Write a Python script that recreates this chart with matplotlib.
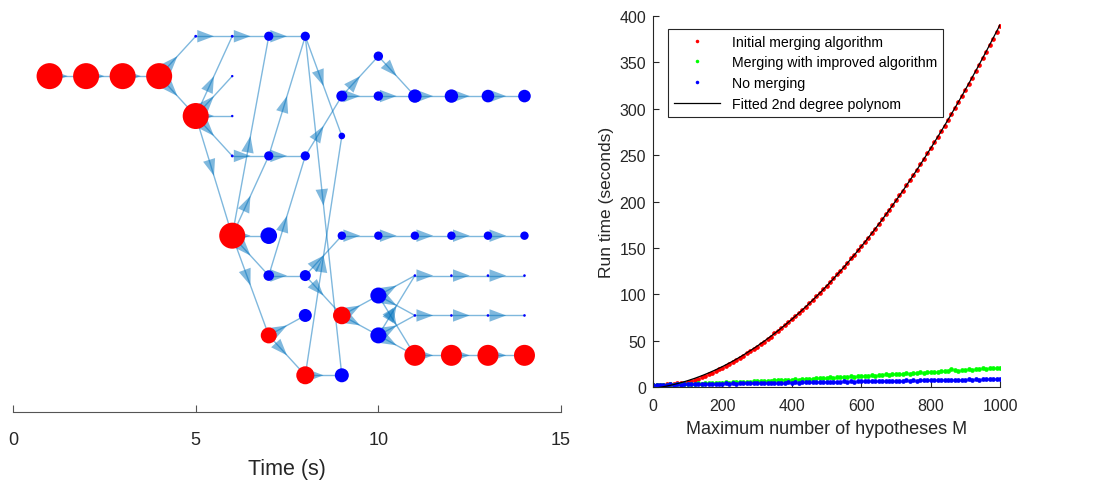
import numpy as np
import matplotlib
matplotlib.use("Agg")
import matplotlib.pyplot as plt
from matplotlib.patches import FancyArrowPatch

plt.rcParams['font.family'] = ['Liberation Sans', 'DejaVu Sans']
GRAY = '#262626'

# ---- left panel: hypothesis graph (node time, row, kind, weight) ----
node_t = [1, 2, 3, 4, 5, 5, 6, 6, 6, 6, 6, 7, 7, 7, 7, 7, 8, 8, 8, 8, 8,
          9, 9, 9, 9, 9, 10, 10, 10, 10, 10,
          11, 12, 13, 14, 11, 12, 13, 14, 11, 12, 13, 14, 11, 12, 13, 14, 11, 12, 13, 14]
node_row = [2, 2, 2, 2, 0, 4, 0, 2, 4, 6, 10, 0, 6, 10, 12, 15, 0, 6, 12, 14, 17,
            3, 5, 10, 14, 17, 1, 3, 10, 13, 15,
            3, 3, 3, 3, 10, 10, 10, 10, 12, 12, 12, 12, 14, 14, 14, 14, 16, 16, 16, 16]
node_kind = ['r', 'r', 'r', 'r', 'b', 'r', 'b', 'b', 'b', 'b', 'r', 'b', 'b', 'b', 'b', 'r',
             'b', 'b', 'b', 'b', 'r', 'b', 'b', 'b', 'r', 'b', 'b', 'b', 'b', 'b', 'b',
             'b', 'b', 'b', 'b', 'b', 'b', 'b', 'b', 'b', 'b', 'b', 'b', 'b', 'b', 'b', 'b',
             'r', 'r', 'r', 'r']
node_weight = [13, 13, 13, 13, 1.4, 13, 1.4, 1.2, 1.2, 1.4, 13, 4.6, 4.6, 8.3, 5.3, 8,
               4.6, 4.6, 5.5, 6.5, 9, 5.5, 3.3, 4.2, 8.8, 7, 4.7, 4.7, 4.2, 8, 8,
               6.7, 6.7, 6.3, 6.3, 4.2, 4.2, 4.2, 4.2, 1.3, 1.3, 1.3, 1.3, 1.3, 1.3, 1.3, 1.3,
               10.5, 10.5, 10.5, 10.5]

edges = [((1, 2), (2, 2)), ((2, 2), (3, 2)), ((3, 2), (4, 2)),
         ((4, 2), (5, 0)), ((4, 2), (5, 4)),
         ((5, 0), (6, 0)), ((5, 4), (6, 0)), ((5, 4), (6, 2)), ((5, 4), (6, 4)),
         ((5, 4), (6, 6)), ((5, 4), (6, 10)),
         ((6, 0), (7, 0)), ((7, 0), (8, 0)), ((6, 6), (7, 6)), ((7, 6), (8, 6)),
         ((6, 10), (7, 0)), ((6, 10), (7, 6)), ((6, 10), (7, 10)), ((6, 10), (7, 12)),
         ((6, 10), (7, 15)), ((7, 6), (8, 0)), ((7, 12), (8, 6)), ((7, 12), (8, 12)),
         ((7, 15), (8, 14)), ((7, 15), (8, 17)),
         ((8, 0), (9, 5)), ((8, 0), (9, 17)), ((8, 6), (9, 3)),
         ((8, 12), (9, 10)), ((8, 12), (9, 14)), ((8, 17), (9, 5)), ((8, 17), (9, 17)),
         ((9, 3), (10, 1)), ((9, 3), (10, 3)), ((9, 10), (10, 10)),
         ((9, 14), (10, 13)), ((9, 14), (10, 15)),
         ((10, 1), (11, 3)), ((10, 3), (11, 3)), ((10, 10), (11, 10)),
         ((10, 13), (11, 12)), ((10, 13), (11, 14)), ((10, 13), (11, 16)),
         ((10, 15), (11, 12)), ((10, 15), (11, 14)), ((10, 15), (11, 16))]
for r in [3, 10, 12, 14, 16]:
    for t in [11, 12, 13]:
        edges.append(((t, r), (t + 1, r)))

# ---- right panel: run time vs max number of hypotheses ----
M = np.arange(0, 1001, 10)
t_initial = [2.1, 2.4, 2.3, 2.7, 2.8, 3.2, 3.3, 3.8, 4.0, 4.7, 5.5, 6.2, 7.6, 8.8, 10.5, 12.3,
             13.8, 15.6, 17.2, 19.3, 21.0, 23.2, 25.0, 27.3, 29.1, 31.6, 33.8, 36.3, 38.5, 41.2,
             43.6, 46.5, 49.0, 51.9, 54.4, 57.7, 60.4, 63.6, 66.5, 70.1, 72.9, 76.6, 79.6, 83.4,
             86.6, 90.5, 93.8, 97.8, 101.2, 105.6, 109.0, 113.4, 117.0, 121.6, 125.3, 129.9,
             133.7, 138.6, 142.7, 147.5, 151.7, 156.8, 161.0, 166.2, 170.6, 176.0, 180.6, 186.1,
             190.7, 196.4, 201.2, 207.0, 211.8, 217.7, 222.8, 228.8, 234.0, 240.2, 245.5, 251.9,
             257.2, 263.8, 269.2, 276.0, 281.5, 288.4, 294.0, 301.0, 306.8, 313.9, 319.8, 327.2,
             333.4, 340.8, 346.9, 354.5, 360.8, 368.6, 375.0, 382.9, 389.6]
t_improved = [2.0, 2.3, 2.1, 2.5, 2.4, 2.8, 2.6, 3.0, 2.9, 3.3, 3.2, 3.6, 3.4, 3.9, 3.7, 4.1,
              4.0, 4.4, 4.3, 4.7, 4.6, 5.0, 4.8, 5.3, 5.1, 5.7, 5.5, 5.9, 5.8, 6.3, 6.1, 6.6,
              6.4, 7.0, 6.8, 7.3, 7.1, 7.7, 7.4, 8.0, 7.8, 8.4, 8.1, 8.8, 8.5, 9.1, 8.9, 9.5,
              9.2, 9.9, 9.6, 10.3, 10.0, 10.7, 10.4, 11.1, 10.8, 11.5, 11.2, 11.9, 11.6, 12.3,
              12.0, 12.8, 12.4, 13.2, 12.9, 13.5, 13.2, 14.0, 13.6, 14.4, 14.1, 14.9, 14.5,
              15.3, 15.0, 15.7, 15.4, 16.2, 15.9, 16.7, 16.3, 17.1, 16.8, 17.5, 19.8, 17.9,
              17.7, 18.5, 18.2, 19.0, 18.7, 19.5, 19.2, 20.0, 19.7, 20.5, 20.2, 21.0, 20.8]
t_none = [2.4, 2.6, 2.3, 2.7, 2.5, 2.8, 2.6, 2.9, 2.7, 3.1, 2.8, 3.2, 3.0, 3.3, 3.1, 3.5,
          3.2, 3.6, 3.3, 3.7, 3.4, 3.8, 3.6, 3.9, 3.7, 4.1, 3.8, 4.2, 3.9, 4.3, 4.1, 4.4,
          4.2, 4.6, 4.3, 4.7, 4.5, 4.8, 4.6, 5.0, 4.7, 5.1, 4.8, 5.2, 5.0, 5.3, 5.1, 5.5,
          5.2, 5.6, 5.3, 5.7, 5.5, 5.8, 5.6, 6.0, 5.7, 6.1, 5.8, 6.2, 6.0, 6.3, 6.1, 6.5,
          6.2, 6.6, 6.3, 6.7, 6.5, 6.8, 6.6, 7.0, 6.7, 7.1, 6.8, 7.2, 7.0, 7.3, 7.1, 7.5,
          7.2, 7.6, 7.3, 7.7, 7.5, 7.8, 7.6, 8.0, 7.7, 8.1, 7.8, 8.2, 8.0, 8.3, 8.1, 8.5,
          8.2, 8.6, 8.3, 8.7, 8.5]

fig = plt.figure(figsize=(11.05, 4.81), dpi=100)

# left panel
ax = fig.add_axes([0.0118, 0.1414, 0.4959, 0.85])
pos = {(t, r): (t, r) for t, r in zip(node_t, node_row)}
edge_col = (0.0, 0.447, 0.741, 0.5)
for a, b in edges:
    x0, y0 = pos[a]
    x1, y1 = pos[b]
    ax.plot([x0, x1], [y0, y1], color=edge_col, lw=1.0, zorder=1)
    ax.add_patch(FancyArrowPatch((x0, y0), ((x0 + x1) / 2, (y0 + y1) / 2),
                                 arrowstyle='-|>,head_length=0.8,head_width=0.3',
                                 mutation_scale=15, color=edge_col, lw=0,
                                 shrinkA=0, shrinkB=0, zorder=1))
cols = ['#ff0000' if k == 'r' else '#0000ff' for k in node_kind]
sizes = [(2 * w * 0.72) ** 2 for w in node_weight]
ax.scatter(node_t, node_row, s=sizes, c=cols, linewidths=0, zorder=3)
ax.set_xlim(0, 15)
ax.set_ylim(18.84, -1.66)
ax.set_xticks([0, 5, 10, 15])
ax.set_yticks([])
for s in ['left', 'right', 'top']:
    ax.spines[s].set_visible(False)
ax.spines['bottom'].set_color('#555555')
ax.tick_params(axis='x', direction='in', length=5, pad=14, labelsize=13,
               color='#555555', labelcolor=GRAY)
ax.set_xlabel('Time (s)', fontsize=15.5, color=GRAY, labelpad=7)

# right panel
ax2 = fig.add_axes([0.591, 0.1933, 0.314, 0.7714])
ax2.plot(M, t_initial, 'o', color='#ff0000', ms=3.4, mew=0, label='Initial merging algorithm')
ax2.plot(M, t_improved, 'o', color='#00ff00', ms=3.4, mew=0,
         label='Merging with improved algorithm')
ax2.plot(M, t_none, 'o', color='#0000ff', ms=3.4, mew=0, label='No merging')
coef = np.polyfit(M, t_initial, 2)
mm = np.linspace(0, 1000, 300)
ax2.plot(mm, np.polyval(coef, mm), color='black', lw=0.9, label='Fitted 2nd degree polynom')
ax2.set_xlim(0, 1000)
ax2.set_ylim(0, 400)
ax2.set_xticks(range(0, 1001, 200))
ax2.set_yticks(range(0, 401, 50))
for s in ['right', 'top']:
    ax2.spines[s].set_visible(False)
for s in ['left', 'bottom']:
    ax2.spines[s].set_color(GRAY)
ax2.tick_params(direction='in', length=4, labelsize=11.5, color=GRAY, labelcolor=GRAY, pad=5)
ax2.tick_params(axis='x', pad=8)
ax2.set_xlabel('Maximum number of hypotheses M', fontsize=13, color=GRAY, labelpad=5)
ax2.set_ylabel('Run time (seconds)', fontsize=12.5, color=GRAY, labelpad=4)
leg = ax2.legend(loc='upper left', bbox_to_anchor=(0.043, 0.965), borderaxespad=0,
                 fontsize=10.2, handlelength=3.3, labelspacing=0.48, fancybox=False,
                 framealpha=1, edgecolor=GRAY, markerscale=0.75, borderpad=0.4)
leg.get_frame().set_linewidth(0.8)

fig.savefig('out.png', dpi=100)
